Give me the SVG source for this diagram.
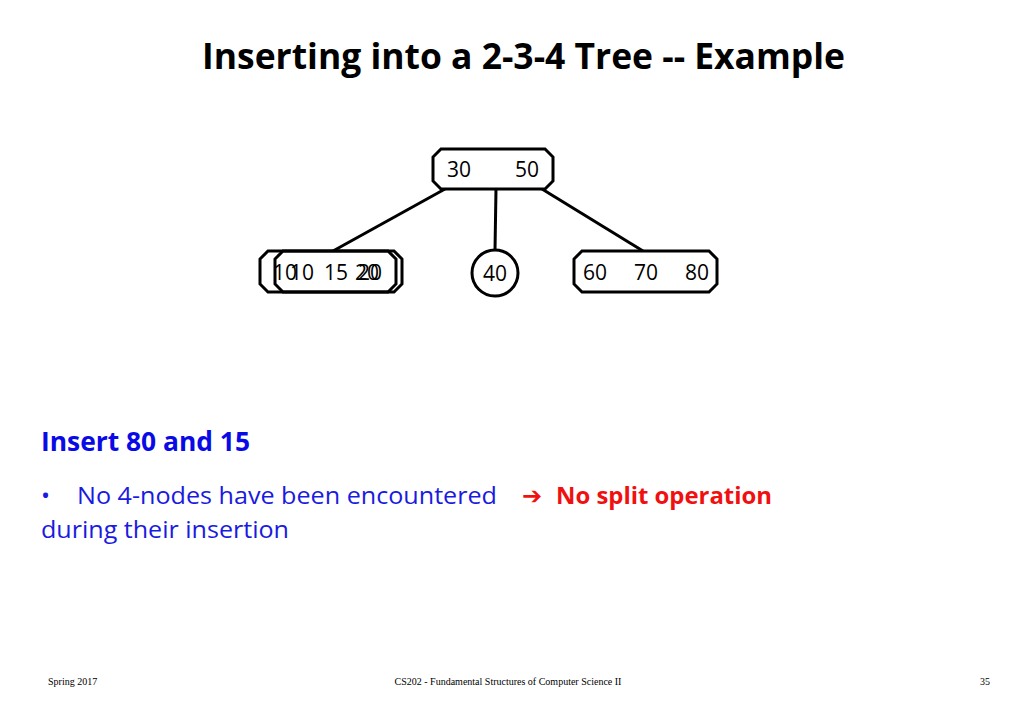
<svg xmlns="http://www.w3.org/2000/svg" width="1024" height="709" viewBox="0 0 1024 709">
<style>
.n{fill:#fff;stroke:#000;stroke-width:3}
.o{fill:none;stroke:#000;stroke-width:3}
.t{font-family:"Open Sans","Liberation Sans",sans-serif;font-size:21px;fill:#000}
.c line{stroke:#000;stroke-width:3}
.f{font-family:"Liberation Serif",serif;font-size:10px;fill:#000}
</style>
<rect width="1024" height="709" fill="#fff"/>
<text x="202" y="69" textLength="643" lengthAdjust="spacingAndGlyphs" font-family="Open Sans, Liberation Sans, sans-serif" font-weight="bold" font-size="35" fill="#000">Inserting into a 2-3-4 Tree -- Example</text>
<g class="c">
<line x1="445" y1="189" x2="333" y2="251"/>
<line x1="496" y1="189" x2="495" y2="250"/>
<line x1="542" y1="189" x2="643" y2="251"/>
</g>
<g id="root"><polygon class="n" points="441,149 545,149 553,157 553,181 545,189 441,189 433,181 433,157"/>
<text class="t" x="447" y="177">30</text><text class="t" x="515" y="177">50</text></g>
<g id="leftback"><polygon class="n" points="268,251 394,251 402,259 402,284 394,292 268,292 260,284 260,259"/>
<text class="t" x="273" y="280">10</text><text class="t" x="358" y="280">20</text></g>
<g id="leftfront"><polygon class="o" points="283,251 388,251 396,259 396,284 388,292 283,292 275,284 275,259"/>
<text class="t" x="290" y="280">10</text><text class="t" x="324" y="280">15</text><text class="t" x="355" y="280">20</text></g>
<g id="mid"><circle class="n" cx="495" cy="273" r="23"/><text class="t" x="495" y="281" text-anchor="middle">40</text></g>
<g id="right"><polygon class="n" points="582,251 709,251 717,259 717,284 709,292 582,292 574,284 574,259"/>
<text class="t" x="583" y="280">60</text><text class="t" x="634" y="280">70</text><text class="t" x="685" y="280">80</text></g>
<text x="41" y="451" textLength="209" lengthAdjust="spacingAndGlyphs" font-family="Open Sans, Liberation Sans, sans-serif" font-weight="bold" font-size="26" fill="#0a0ae6">Insert 80 and 15</text>
<g font-family="Open Sans, Liberation Sans, sans-serif" font-size="24" fill="#1a1ae0">
<text x="41" y="504">•</text>
<text x="77" y="504" textLength="420" lengthAdjust="spacingAndGlyphs">No 4-nodes have been encountered</text>
<text x="41" y="538" textLength="248" lengthAdjust="spacingAndGlyphs">during their insertion</text>
</g>
<text x="522" y="504" font-family="DejaVu Sans, sans-serif" font-weight="bold" font-size="24" fill="#f01010">➔</text>
<text x="556" y="504" textLength="216" lengthAdjust="spacingAndGlyphs" font-family="Open Sans, Liberation Sans, sans-serif" font-weight="bold" font-size="24" fill="#f01010">No split operation</text>
<text class="f" x="48" y="685">Spring 2017</text>
<text class="f" x="508" y="685" text-anchor="middle">CS202 - Fundamental Structures of Computer Science II</text>
<text class="f" x="980" y="685">35</text>
</svg>
